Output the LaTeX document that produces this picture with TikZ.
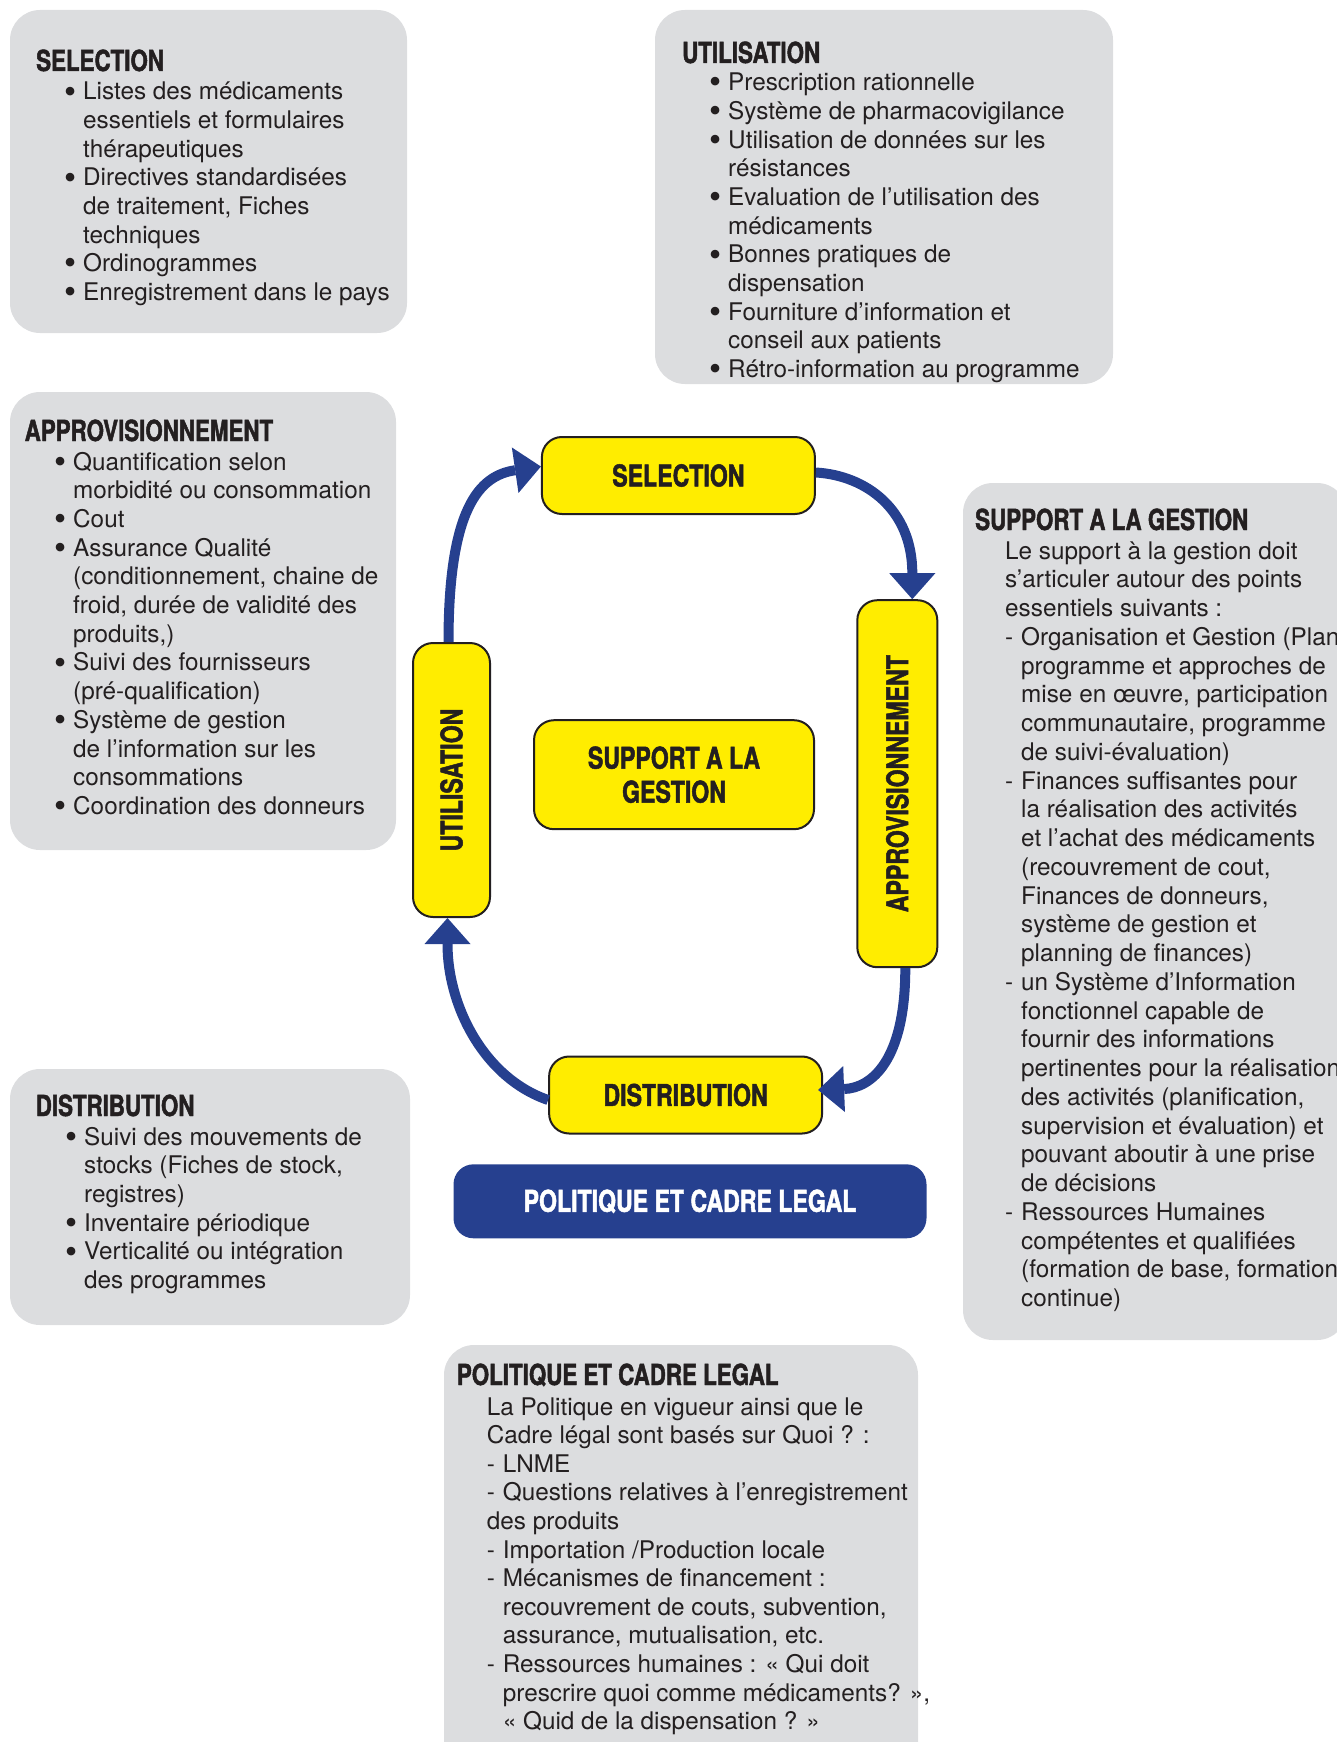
\documentclass[tikz,border=0pt]{standalone}
\usepackage{fontspec}
\usepackage{graphicx}
\usetikzlibrary{arrows.meta}
\setmainfont{TeX Gyre Heros}
\newfontfamily\headfont[FakeStretch=0.77,FakeBold=1.6]{TeX Gyre Heros}
\definecolor{ygl}{HTML}{FFED00}
\definecolor{bl}{HTML}{26408F}
\definecolor{gr}{HTML}{DCDDDF}
\definecolor{ink}{HTML}{231F20}
\newlength\bw \setlength\bw{17pt}
\newcommand\bdot{\smash{\raisebox{-3.2pt}{\scalebox{1.42}{•}}}}
\newcommand\bitem[1]{\hbox{\makebox[\bw][l]{\hspace{-1.5pt}\bdot}#1}}
\newcommand\bcont[1]{\hbox{\hspace{\bw}#1}}
\newcommand\dline[1]{\hbox{\makebox[16pt][l]{-}#1}}
\newcommand\dcont[1]{\hbox{\hspace{16pt}#1}}
\newcommand\pline[1]{\hbox{#1}}
\tikzset{
  graybox/.style={fill=gr, rounded corners=30pt},
  hd/.style={anchor=base west, inner sep=0pt, text=ink, font=\fontsize{29}{34}\headfont\bfseries},
  body/.style={anchor=base west, inner sep=0pt, text=ink, font=\fontsize{24.3}{28.6}\selectfont},
  ybox/.style={draw=ink, line width=2pt, fill=ygl, rounded corners=20pt, inner sep=0pt, text=ink, align=center, font=\fontsize{30}{34}\headfont\bfseries},
  bbox/.style={fill=bl, rounded corners=20pt, inner sep=0pt, text=white, align=center, font=\fontsize{30}{34}\headfont\bfseries},
  flow/.style={draw=bl, line width=10pt, -{Triangle[length=26pt,width=46pt,line width=0pt]}}
}
\begin{document}
\begin{tikzpicture}[x=1pt,y=-1pt]
\path[use as bounding box] (0,0) rectangle (1337,1742);
\begin{scope}
\clip (0,0) rectangle (1337,1742);
% gray panels
\fill[graybox] (10,10) rectangle (407,333);
\fill[graybox] (655,10) rectangle (1113,384);
\fill[graybox] (10,392) rectangle (396,850);
\fill[graybox] (963,483) rectangle (1347,1340);
\fill[graybox] (10,1069) rectangle (410,1325);
\fill[graybox] (444,1345) rectangle (918,1800);

% SELECTION panel
\node[hd] (hsel) at (36,71) {SELECTION};
\node[body] (tsel) at (66,100) {\vtop{%
\bitem{Listes des médicaments}
\bcont{essentiels et formulaires}
\bcont{thérapeutiques}
\bitem{Directives standardisées}
\bcont{de traitement, Fiches}
\bcont{techniques}
\bitem{Ordinogrammes}
\bitem{Enregistrement dans le pays}}};

% UTILISATION panel
\node[hd] (hutil) at (682,63) {UTILISATION};
\node[body] (tutil) at (711,90.7) {\vtop{\baselineskip=28.7pt
\bitem{Prescription rationnelle}
\bitem{Système de pharmacovigilance}
\bitem{Utilisation de données sur les}
\bcont{résistances}
\bitem{Evaluation de l’utilisation des}
\bcont{médicaments}
\bitem{Bonnes pratiques de}
\bcont{dispensation}
\bitem{Fourniture d’information et}
\bcont{conseil aux patients}
\bitem{Rétro-information au programme}}};

% APPROVISIONNEMENT panel
\node[hd] (happ) at (24.5,441) {APPROVISIONNEMENT};
\node[body] (tapp) at (56,470) {\vtop{\baselineskip=28.7pt
\bitem{Quantification selon}
\bcont{morbidité ou consommation}
\bitem{Cout}
\bitem{Assurance Qualité}
\bcont{(conditionnement, chaine de}
\bcont{froid, durée de validité des}
\bcont{produits,)}
\bitem{Suivi des fournisseurs}
\bcont{(pré-qualification)}
\bitem{Système de gestion}
\bcont{de l’information sur les}
\bcont{consommations}
\bitem{Coordination des donneurs}}};

% SUPPORT panel
\node[hd] (hsup) at (975,530) {SUPPORT A LA GESTION};
\node[body] (tsup) at (1005,559) {\vtop{\baselineskip=28.75pt
\pline{Le support à la gestion doit}
\pline{s’articuler autour des points}
\pline{essentiels suivants :}
\dline{Organisation et Gestion (Plan}
\dcont{programme et approches de}
\dcont{mise en œuvre, participation}
\dcont{communautaire, programme}
\dcont{de suivi-évaluation)}
\dline{Finances suffisantes pour}
\dcont{la réalisation des activités}
\dcont{et l’achat des médicaments}
\dcont{(recouvrement de cout,}
\dcont{Finances de donneurs,}
\dcont{système de gestion et}
\dcont{planning de finances)}
\dline{un Système d’Information}
\dcont{fonctionnel capable de}
\dcont{fournir des informations}
\dcont{pertinentes pour la réalisation}
\dcont{des activités (planification,}
\dcont{supervision et évaluation) et}
\dcont{pouvant aboutir à une prise}
\dcont{de décisions}
\dline{Ressources Humaines}
\dcont{compétentes et qualifiées}
\dcont{(formation de base, formation}
\dcont{continue)}}};

% DISTRIBUTION panel
\node[hd] (hdist) at (35.6,1116) {DISTRIBUTION};
\node[body] (tdist) at (67,1145) {\vtop{\baselineskip=28.7pt
\bitem{Suivi des mouvements de}
\bcont{stocks (Fiches de stock,}
\bcont{registres)}
\bitem{Inventaire périodique}
\bitem{Verticalité ou intégration}
\bcont{des programmes}}};

% POLITIQUE panel
\node[hd] (hpol) at (456.7,1385) {POLITIQUE ET CADRE LEGAL};
\node[body] (tpol) at (486.7,1415) {\vtop{\baselineskip=28.6pt
\pline{La Politique en vigueur ainsi que le}
\pline{Cadre légal sont basés sur Quoi ? :}
\dline{LNME}
\dline{Questions relatives à l’enregistrement}
\pline{des produits}
\dline{Importation /Production locale}
\dline{Mécanismes de financement :}
\dcont{recouvrement de couts, subvention,}
\dcont{assurance, mutualisation, etc.}
\dline{Ressources humaines : « Qui doit}
\dcont{prescrire quoi comme médicaments? »,}
\dcont{« Quid de la dispensation ? »}}};

% central cycle
\node[ybox, minimum width=273pt, minimum height=77pt] (sel) at (678.4,475.5) {SELECTION};
\node[ybox, minimum width=80pt, minimum height=367pt] (appro) at (897.3,783.7) {\rotatebox{90}{APPROVISIONNEMENT}};
\node[ybox, minimum width=77pt, minimum height=274pt] (util) at (451.5,780) {\rotatebox{90}{UTILISATION}};
\node[ybox, minimum width=280pt, minimum height=109pt] (sup) at (674,774.7) {SUPPORT A LA\\GESTION};
\node[ybox, minimum width=273pt, minimum height=77pt] (dist) at (685.6,1095) {DISTRIBUTION};
\node[bbox, minimum width=473pt, minimum height=74pt] (pol) at (690,1201.3) {POLITIQUE ET CADRE LEGAL};

\draw[flow] ([xshift=-3pt]util.north) .. controls +(0,-133) and +(-62,9) .. ([yshift=9pt]sel.west);
\draw[flow] ([yshift=3pt]sel.east) .. controls +(50,3) and +(0,-90) .. ([xshift=15pt]appro.north);
\draw[flow] ([xshift=8pt]appro.south) .. controls +(0,93) and +(53,-2) .. ([xshift=-5pt,yshift=5pt]dist.east);
\draw[flow] ([yshift=-5pt]dist.west) .. controls +(-64,-22) and +(0,88) .. ([xshift=-4pt]util.south);
\end{scope}
\end{tikzpicture}
\end{document}
